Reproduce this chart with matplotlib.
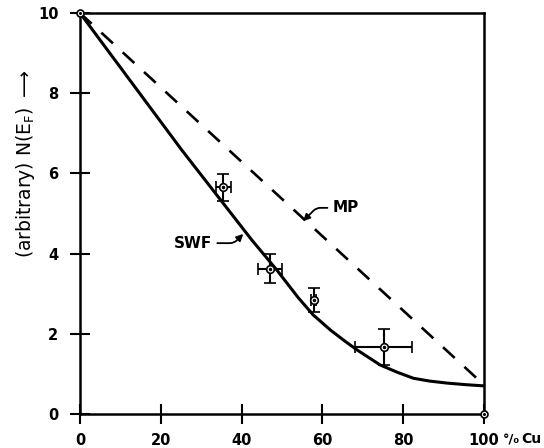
import matplotlib
matplotlib.use("Agg")
import matplotlib.pyplot as plt

# data
swf_x = [0, 25.2, 42.5, 48.7, 54.0, 57.7, 62.0, 65.5, 68.5, 74.3, 78.5, 82.5, 86.5, 90.8, 95.5, 100]
swf_y = [10, 6.58, 4.34, 3.59, 2.90, 2.47, 2.09, 1.82, 1.60, 1.22, 1.04, 0.89, 0.82, 0.77, 0.73, 0.70]
mp_x = [0, 100]
mp_y = [10, 0.72]
pts_x = [35.5, 47.0, 57.8, 75.1]
pts_y = [5.65, 3.62, 2.85, 1.68]
x_err = [1.9, 2.9, 0.7, 7.0]
y_err = [0.33, 0.36, 0.30, 0.45]
end_x = [0, 100]
end_y = [10, 0]
x_ticks = [0, 20, 40, 60, 80, 100]
y_ticks = [0, 2, 4, 6, 8, 10]

fig = plt.figure(figsize=(5.44, 4.48), dpi=100)
ax = fig.add_axes([0.147, 0.076, 0.743, 0.895])

ax.plot(swf_x, swf_y, color="black", lw=2.2, solid_capstyle="round")
ax.plot(mp_x, mp_y, color="black", lw=1.9, dashes=(6, 5))

ax.errorbar(pts_x, pts_y, xerr=x_err, yerr=y_err, fmt="o", ms=5.5,
            mfc="white", mec="black", mew=1.2, ecolor="black",
            elinewidth=1.5, capsize=4, capthick=1.5, zorder=4)
ax.plot(pts_x, pts_y, "o", ms=1.5, color="black", zorder=5)
ax.plot(end_x, end_y, "o", ms=5, mfc="white", mec="black", mew=1.2,
        clip_on=False, zorder=5)
ax.plot(end_x, end_y, "o", ms=1.2, color="black", clip_on=False, zorder=6)

# labels with leader arrows
ax.annotate("MP", xy=(55.2, 4.81), xytext=(62.6, 5.14),
            fontsize=11, fontweight="bold", va="center", ha="left",
            arrowprops=dict(arrowstyle="-|>", color="black", lw=1.3,
                            connectionstyle="angle,angleA=0,angleB=45,rad=4",
                            shrinkA=2, shrinkB=0, mutation_scale=10))
ax.annotate("SWF", xy=(40.4, 4.49), xytext=(32.6, 4.26),
            fontsize=11, fontweight="bold", va="center", ha="right",
            arrowprops=dict(arrowstyle="-|>", color="black", lw=1.3,
                            connectionstyle="angle,angleA=0,angleB=45,rad=4",
                            shrinkA=2, shrinkB=0, mutation_scale=10))

ax.set_xlim(0, 100)
ax.set_ylim(0, 10)
ax.set_xticks(x_ticks)
ax.set_yticks(y_ticks)
ax.set_xticklabels([str(t) for t in x_ticks], fontsize=10.5, fontweight="bold")
ax.set_yticklabels([str(t) for t in y_ticks], fontsize=10.5, fontweight="bold")
ax.tick_params(direction="inout", length=15, width=1.5, pad=8)
ax.tick_params(axis="x", pad=6)
for s in ax.spines.values():
    s.set_linewidth(1.8)

fig.text(0.925, 0.011, "°/₀", fontsize=9.5, fontweight="bold",
         ha="left", va="baseline")
fig.text(0.958, 0.011, "Cu", fontsize=10, fontweight="bold",
         ha="left", va="baseline")
fig.text(0.046, 0.635, r"(arbitrary) N(E$_\mathrm{F}$) $\longrightarrow$",
         rotation=90, fontsize=13.5, ha="center", va="center")

fig.savefig("out.png", dpi=100)
